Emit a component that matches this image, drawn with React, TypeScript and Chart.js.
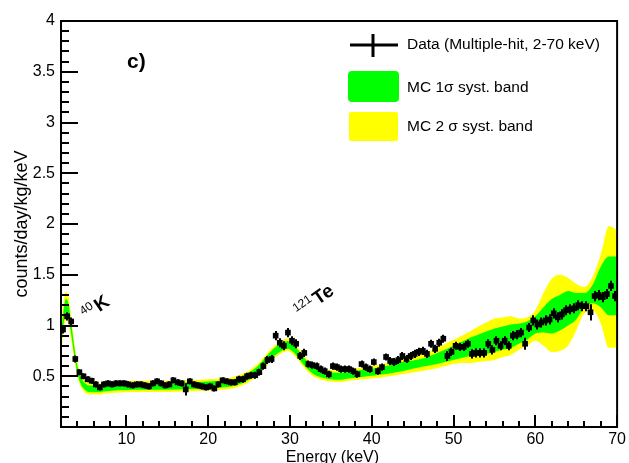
import React, { useEffect, useRef } from 'react';
import { Chart, registerables } from 'chart.js';

Chart.register(...registerables);

const FONT = '"Liberation Sans", Arial, Helvetica, sans-serif';

// Measured data (Multiple-hit, 2-70 keV), 0.5 keV bins
const energies = [
  2.25, 2.75, 3.25, 3.75, 4.25, 4.75, 5.25, 5.75, 6.25, 6.75,
  7.25, 7.75, 8.25, 8.75, 9.25, 9.75, 10.25, 10.75, 11.25, 11.75,
  12.25, 12.75, 13.25, 13.75, 14.25, 14.75, 15.25, 15.75, 16.25, 16.75,
  17.25, 17.75, 18.25, 18.75, 19.25, 19.75, 20.25, 20.75, 21.25, 21.75,
  22.25, 22.75, 23.25, 23.75, 24.25, 24.75, 25.25, 25.75, 26.25, 26.75,
  27.25, 27.75, 28.25, 28.75, 29.25, 29.75, 30.25, 30.75, 31.25, 31.75,
  32.25, 32.75, 33.25, 33.75, 34.25, 34.75, 35.25, 35.75, 36.25, 36.75,
  37.25, 37.75, 38.25, 38.75, 39.25, 39.75, 40.25, 40.75, 41.25, 41.75,
  42.25, 42.75, 43.25, 43.75, 44.25, 44.75, 45.25, 45.75, 46.25, 46.75,
  47.25, 47.75, 48.25, 48.75, 49.25, 49.75, 50.25, 50.75, 51.25, 51.75,
  52.25, 52.75, 53.25, 53.75, 54.25, 54.75, 55.25, 55.75, 56.25, 56.75,
  57.25, 57.75, 58.25, 58.75, 59.25, 59.75, 60.25, 60.75, 61.25, 61.75,
  62.25, 62.75, 63.25, 63.75, 64.25, 64.75, 65.25, 65.75, 66.25, 66.75,
  67.25, 67.75, 68.25, 68.75, 69.25, 69.75,
];

const counts = [
  0.96, 1.09, 1.04, 0.67, 0.54, 0.50, 0.47, 0.455, 0.42, 0.39,
  0.42, 0.43, 0.42, 0.43, 0.43, 0.43, 0.42, 0.41, 0.42, 0.42,
  0.41, 0.40, 0.43, 0.45, 0.43, 0.41, 0.42, 0.46, 0.44, 0.43,
  0.37, 0.45, 0.42, 0.41, 0.40, 0.39, 0.40, 0.38, 0.42, 0.46,
  0.45, 0.44, 0.44, 0.47, 0.47, 0.50, 0.51, 0.51, 0.54, 0.60,
  0.66, 0.67, 0.90, 0.83, 0.80, 0.93, 0.85, 0.82, 0.70, 0.73,
  0.62, 0.61, 0.60, 0.57, 0.55, 0.52, 0.60, 0.59, 0.57, 0.57,
  0.57, 0.55, 0.52, 0.62, 0.59, 0.57, 0.64, 0.55, 0.59, 0.69,
  0.65, 0.64, 0.66, 0.70, 0.67, 0.70, 0.72, 0.74, 0.75, 0.72,
  0.82, 0.77, 0.83, 0.87, 0.70, 0.74, 0.80, 0.79, 0.79, 0.82,
  0.72, 0.73, 0.73, 0.73, 0.82, 0.76, 0.85, 0.80, 0.85, 0.80,
  0.90, 0.91, 0.93, 0.82, 0.98, 1.05, 1.01, 1.03, 1.05, 1.06,
  1.12, 1.08, 1.11, 1.15, 1.16, 1.17, 1.20, 1.19, 1.19, 1.13,
  1.29, 1.30, 1.28, 1.31, 1.39, 1.29,
];

const errors = [
  0.04, 0.04, 0.04, 0.035, 0.03, 0.03, 0.03, 0.03, 0.03, 0.03,
  0.03, 0.03, 0.03, 0.03, 0.03, 0.03, 0.03, 0.03, 0.03, 0.03,
  0.03, 0.03, 0.03, 0.03, 0.03, 0.03, 0.03, 0.03, 0.03, 0.03,
  0.06, 0.03, 0.03, 0.03, 0.03, 0.03, 0.03, 0.03, 0.03, 0.03,
  0.03, 0.03, 0.03, 0.035, 0.035, 0.035, 0.035, 0.035, 0.035, 0.035,
  0.04, 0.04, 0.045, 0.045, 0.045, 0.045, 0.045, 0.045, 0.04, 0.04,
  0.035, 0.035, 0.035, 0.035, 0.035, 0.035, 0.035, 0.035, 0.035, 0.035,
  0.035, 0.035, 0.035, 0.035, 0.035, 0.035, 0.035, 0.035, 0.035, 0.035,
  0.04, 0.04, 0.04, 0.04, 0.04, 0.04, 0.04, 0.04, 0.04, 0.04,
  0.04, 0.04, 0.04, 0.04, 0.05, 0.04, 0.04, 0.04, 0.04, 0.04,
  0.045, 0.045, 0.045, 0.045, 0.045, 0.045, 0.045, 0.045, 0.045, 0.045,
  0.045, 0.045, 0.045, 0.06, 0.045, 0.05, 0.05, 0.05, 0.05, 0.05,
  0.05, 0.05, 0.05, 0.05, 0.05, 0.05, 0.05, 0.05, 0.05, 0.08,
  0.05, 0.05, 0.05, 0.05, 0.05, 0.05,
];

// MC systematic bands
const mcEnergies = [
  2, 2.3, 2.6, 2.9, 3.2, 3.6, 4, 4.4, 4.9, 5.5,
  6.5, 7.5, 9, 11, 13, 15, 17, 19, 21, 22,
  23, 24, 25, 26, 27, 28, 29, 29.7, 30.5, 31,
  32, 33, 34, 35, 36, 37, 38, 40, 42, 44,
  46, 48, 50, 51, 52, 53, 54, 55, 56, 57,
  58, 59, 60, 61, 62, 63, 64, 65, 66, 67,
  68, 69, 70,
];

const band2Low = [
  0.70, 0.93, 1.06, 1.02, 0.88, 0.68, 0.50, 0.40, 0.342, 0.32,
  0.32, 0.33, 0.34, 0.345, 0.345, 0.345, 0.35, 0.355, 0.365, 0.37,
  0.38, 0.403, 0.443, 0.503, 0.593, 0.673, 0.728, 0.748, 0.708, 0.658,
  0.56, 0.493, 0.463, 0.448, 0.443, 0.453, 0.463, 0.478, 0.498, 0.525,
  0.55, 0.58, 0.62, 0.63, 0.63, 0.64, 0.65, 0.66, 0.69, 0.71,
  0.76, 0.80, 0.85, 0.80, 0.74, 0.75, 0.80, 0.95, 1.12, 1.15,
  1.02, 0.78, 0.78,
];

const band1Low = [
  0.77, 1.00, 1.13, 1.09, 0.94, 0.715, 0.535, 0.425, 0.367, 0.342,
  0.342, 0.352, 0.362, 0.367, 0.367, 0.367, 0.372, 0.377, 0.387, 0.392,
  0.402, 0.425, 0.465, 0.525, 0.615, 0.695, 0.752, 0.772, 0.732, 0.682,
  0.583, 0.515, 0.485, 0.47, 0.465, 0.475, 0.485, 0.505, 0.525, 0.555,
  0.59, 0.62, 0.66, 0.68, 0.70, 0.71, 0.72, 0.74, 0.76, 0.78,
  0.82, 0.86, 0.92, 0.93, 0.92, 0.95, 1.00, 1.06, 1.18, 1.22,
  1.18, 1.10, 1.10,
];

const band1High = [
  0.91, 1.14, 1.26, 1.22, 1.06, 0.805, 0.605, 0.495, 0.433, 0.408,
  0.408, 0.418, 0.428, 0.433, 0.433, 0.433, 0.438, 0.443, 0.453, 0.458,
  0.468, 0.495, 0.535, 0.595, 0.685, 0.77, 0.828, 0.848, 0.808, 0.758,
  0.657, 0.585, 0.555, 0.54, 0.535, 0.545, 0.555, 0.575, 0.605, 0.645,
  0.67, 0.73, 0.80, 0.84, 0.88, 0.91, 0.94, 0.97, 0.99, 1.01,
  1.02, 1.04, 1.09, 1.18, 1.26, 1.30, 1.34, 1.32, 1.32, 1.40,
  1.58, 1.68, 1.68,
];

const band2High = [
  0.99, 1.22, 1.33, 1.29, 1.11, 0.845, 0.645, 0.52, 0.458, 0.43,
  0.43, 0.44, 0.45, 0.455, 0.455, 0.455, 0.46, 0.465, 0.475, 0.48,
  0.49, 0.517, 0.557, 0.617, 0.707, 0.792, 0.852, 0.872, 0.832, 0.782,
  0.68, 0.607, 0.577, 0.562, 0.557, 0.567, 0.577, 0.602, 0.632, 0.675,
  0.71, 0.78, 0.86, 0.90, 0.94, 0.99, 1.03, 1.07, 1.08, 1.09,
  1.07, 1.08, 1.15, 1.32, 1.46, 1.50, 1.47, 1.41, 1.38, 1.48,
  1.70, 1.98, 1.94,
];

const xTicks = [10, 20, 30, 40, 50, 60, 70];
const yTicks = [0.5, 1, 1.5, 2, 2.5, 3, 3.5, 4];
const xMinorTicks = [4, 6, 8, 12, 14, 16, 18, 22, 24, 26, 28, 32, 34, 36, 38, 42, 44, 46, 48, 52, 54, 56, 58, 62, 64, 66, 68];
const yMinorTicks = [
  0.1, 0.2, 0.3, 0.4, 0.6, 0.7, 0.8, 0.9, 1.1, 1.2, 1.3, 1.4, 1.6, 1.7, 1.8, 1.9,
  2.1, 2.2, 2.3, 2.4, 2.6, 2.7, 2.8, 2.9, 3.1, 3.2, 3.3, 3.4, 3.6, 3.7, 3.8, 3.9,
];

const legendLabels = ['Data (Multiple-hit, 2-70 keV)', 'MC 1\u03c3 syst. band', 'MC 2 \u03c3 syst. band'];

const overlayPlugin = {
  id: 'rootOverlay',
  afterDatasetsDraw(chart: any) {
    const { ctx, chartArea: a, scales } = chart;
    const x = scales.x;
    const y = scales.y;
    ctx.save();
    ctx.beginPath();
    ctx.rect(a.left, a.top, a.right - a.left, a.bottom - a.top);
    ctx.clip();
    ctx.strokeStyle = '#000';
    ctx.lineWidth = 2;
    energies.forEach((e, i) => {
      const px = Math.round(x.getPixelForValue(e));
      const py = y.getPixelForValue(counts[i]);
      ctx.beginPath();
      ctx.moveTo(px, y.getPixelForValue(counts[i] - errors[i]));
      ctx.lineTo(px, y.getPixelForValue(counts[i] + errors[i]));
      ctx.moveTo(x.getPixelForValue(e - 0.25), py);
      ctx.lineTo(x.getPixelForValue(e + 0.25), py);
      ctx.stroke();
    });
    ctx.restore();
  },
  afterDraw(chart: any) {
    const { ctx, chartArea: a, scales } = chart;
    const x = scales.x;
    const y = scales.y;
    ctx.save();
    ctx.strokeStyle = '#000';
    ctx.fillStyle = '#000';
    ctx.lineWidth = 2;
    // frame
    ctx.strokeRect(a.left, a.top, a.right - a.left, a.bottom - a.top);
    // ticks
    ctx.beginPath();
    xTicks.forEach((v) => {
      const px = Math.round(x.getPixelForValue(v));
      ctx.moveTo(px, a.bottom);
      ctx.lineTo(px, a.bottom - 12);
    });
    xMinorTicks.forEach((v) => {
      const px = Math.round(x.getPixelForValue(v));
      ctx.moveTo(px, a.bottom);
      ctx.lineTo(px, a.bottom - 6);
    });
    yTicks.forEach((v) => {
      const py = Math.round(y.getPixelForValue(v));
      ctx.moveTo(a.left, py);
      ctx.lineTo(a.left + 17, py);
    });
    yMinorTicks.forEach((v) => {
      const py = Math.round(y.getPixelForValue(v));
      ctx.moveTo(a.left, py);
      ctx.lineTo(a.left + 8, py);
    });
    ctx.stroke();

    // panel label
    ctx.font = `bold 21px ${FONT}`;
    ctx.textBaseline = 'middle';
    ctx.textAlign = 'left';
    ctx.fillText('c)', 127, 62);

    // peak annotations
    const drawIso = (ox: number, oy: number, mass: string, sym: string) => {
      ctx.save();
      ctx.translate(ox, oy);
      ctx.rotate((-35 * Math.PI) / 180);
      ctx.textBaseline = 'alphabetic';
      ctx.font = `12px ${FONT}`;
      ctx.fillText(mass, 0, -7);
      const w = ctx.measureText(mass).width;
      ctx.font = `bold 19px ${FONT}`;
      ctx.fillText(sym, w + 2, 0);
      ctx.restore();
    };
    drawIso(87, 321, '40', 'K');
    drawIso(300, 318, '121', 'Te');

    // legend
    ctx.lineWidth = 3;
    ctx.beginPath();
    ctx.moveTo(350, 45);
    ctx.lineTo(398, 45);
    ctx.moveTo(373, 34);
    ctx.lineTo(373, 57);
    ctx.stroke();
    ctx.fillStyle = '#00ff00';
    ctx.beginPath();
    (ctx as any).roundRect(348, 71, 51, 31, 4);
    ctx.fill();
    ctx.fillStyle = '#ffff00';
    ctx.beginPath();
    (ctx as any).roundRect(349, 112, 49, 29, 2);
    ctx.fill();
    ctx.fillStyle = '#000';
    ctx.font = `15.5px ${FONT}`;
    ctx.textBaseline = 'middle';
    ctx.fillText(legendLabels[0], 407, 45);
    ctx.fillText(legendLabels[1], 407, 88);
    ctx.fillText(legendLabels[2], 407, 127);
    ctx.restore();
  },
};

export default function App() {
  const canvasRef = useRef<HTMLCanvasElement | null>(null);

  useEffect(() => {
    if (!canvasRef.current) return;
    const toXY = (xs: number[], ys: number[]) => xs.map((e, i) => ({ x: e, y: ys[i] }));
    const bandCommon = {
      borderWidth: 0,
      borderColor: 'rgba(0,0,0,0)',
      pointRadius: 0,
      cubicInterpolationMode: 'monotone' as const,
    };
    const chart = new Chart(canvasRef.current, {
      type: 'line',
      data: {
        datasets: [
          { ...bandCommon, label: '2s high', data: toXY(mcEnergies, band2High), fill: 1, backgroundColor: '#ffff00', order: 4 },
          { ...bandCommon, label: '2s low', data: toXY(mcEnergies, band2Low), fill: false, order: 4 },
          { ...bandCommon, label: '1s high', data: toXY(mcEnergies, band1High), fill: 3, backgroundColor: '#00ff00', order: 3 },
          { ...bandCommon, label: '1s low', data: toXY(mcEnergies, band1Low), fill: false, order: 3 },
          {
            label: 'Data',
            data: toXY(energies, counts),
            showLine: false,
            pointStyle: 'rect',
            pointRadius: 4,
            pointBackgroundColor: '#000',
            pointBorderWidth: 0,
            borderColor: '#000',
            backgroundColor: '#000',
            order: 1,
          },
        ],
      },
      options: {
        animation: false,
        responsive: false,
        devicePixelRatio: 1,
        layout: { padding: { left: 0, right: 10, top: 21, bottom: 0 } },
        plugins: { legend: { display: false }, tooltip: { enabled: false } },
        scales: {
          x: {
            type: 'linear',
            min: 2,
            max: 70,
            afterBuildTicks: (s: any) => {
              s.ticks = xTicks.map((v) => ({ value: v }));
            },
            afterFit: (s: any) => {
              s.height = 36;
            },
            grid: { display: false, drawTicks: false },
            border: { display: false },
            ticks: {
              color: '#000',
              font: { family: FONT, size: 16 },
              padding: 3,
              maxRotation: 0,
              autoSkip: false,
              callback: (v: any) => String(v),
            },
            title: {
              display: true,
              text: 'Energy (keV)   ',
              color: '#000',
              font: { family: FONT, size: 16, lineHeight: 1 },
              padding: { top: 0, bottom: -3 },
            },
          },
          y: {
            type: 'linear',
            min: 0,
            max: 4,
            afterBuildTicks: (s: any) => {
              s.ticks = yTicks.map((v) => ({ value: v }));
            },
            afterFit: (s: any) => {
              s.width = 61;
            },
            grid: { display: false, drawTicks: false },
            border: { display: false },
            ticks: {
              color: '#000',
              font: { family: FONT, size: 16 },
              padding: 6,
              callback: (v: any) => String(v),
            },
            title: {
              display: true,
              text: 'counts/day/kg/keV',
              color: '#000',
              font: { family: FONT, size: 18, lineHeight: 1 },
              padding: { top: 13, bottom: 0 },
            },
          },
        },
      },
      plugins: [overlayPlugin],
    });
    return () => chart.destroy();
  }, []);

  return (
    <div style={{ position: 'fixed', left: 0, top: 0, width: 629, height: 463, background: '#fff' }}>
      <canvas ref={canvasRef} width={629} height={463} style={{ width: 629, height: 463 }} />
    </div>
  );
}
